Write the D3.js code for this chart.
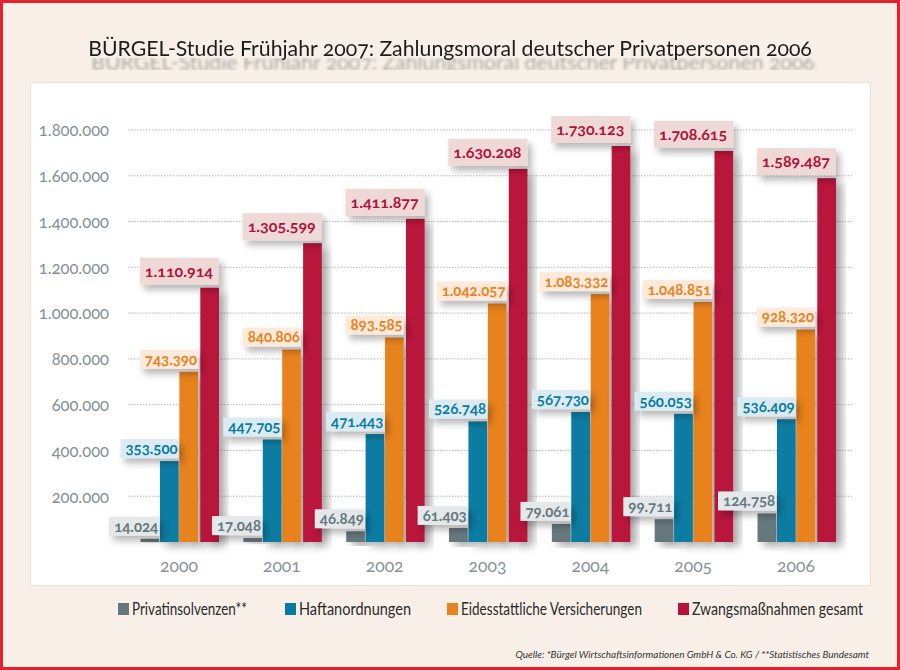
<!DOCTYPE html>
<html><head><meta charset="utf-8">
<script src="https://cdn.jsdelivr.net/npm/d3@7"></script>
<style>
html,body{margin:0;padding:0;background:#f8f0e8;}
svg{display:block;}
text{font-family:Lato,"Open Sans",sans-serif;font-variant-numeric:oldstyle-nums;}
</style></head>
<body><svg id="c" width="900" height="670"></svg>
<script>
const years = ["2000","2001","2002","2003","2004","2005","2006"];
const privatinsolvenzen = [14024, 17048, 46849, 61403, 79061, 99711, 124758];
const haftanordnungen = [353500, 447705, 471443, 526748, 567730, 560053, 536409];
const eidesstattliche = [743390, 840806, 893585, 1042057, 1083332, 1048851, 928320];
const zwangsmassnahmen = [1110914, 1305599, 1411877, 1630208, 1730123, 1708615, 1589487];
const seriesNames = ["Privatinsolvenzen**","Haftanordnungen","Eidesstattliche Versicherungen","Zwangsmaßnahmen gesamt"];
const seriesColors = ["#66777d","#077ca2","#e8821f","#b9123a"];
const labelFills = ["#e4e8ea","#dcebf2","#fdeadb","#eed9d6"];
const labelColors = ["#66777d","#077ca2","#e8821f","#b0123a"];
const yTicks = [200000,400000,600000,800000,1000000,1200000,1400000,1600000,1800000];
const titleText = "BÜRGEL-Studie Frühjahr 2007: Zahlungsmoral deutscher Privatpersonen 2006";
const sourceText = "Quelle: *Bürgel Wirtschaftsinformationen GmbH & Co. KG / **Statistisches Bundesamt";

const allSeries = [privatinsolvenzen, haftanordnungen, eidesstattliche, zwangsmassnahmen];
const de = d3.formatLocale({decimal:",",thousands:".",grouping:[3],currency:["","€"]});
const fmt = de.format(",d");

const svg = d3.select("#c");
const defs = svg.append("defs");
const sh = defs.append("filter").attr("id","sh").attr("x","-50%").attr("y","-20%").attr("width","200%").attr("height","150%");
sh.append("feDropShadow").attr("dx",6).attr("dy",4).attr("stdDeviation",4).attr("flood-color","#000").attr("flood-opacity",0.35);
const shl = defs.append("filter").attr("id","shl").attr("x","-30%").attr("y","-50%").attr("width","160%").attr("height","220%");
shl.append("feDropShadow").attr("dx",4).attr("dy",5).attr("stdDeviation",3.5).attr("flood-color","#000").attr("flood-opacity",0.28);

// title shadow filter: blurred copy shifted down, cropped
const tf = defs.append("filter").attr("id","tsh").attr("filterUnits","userSpaceOnUse")
  .attr("x",40).attr("y",15).attr("width",820).attr("height",65);
tf.append("feGaussianBlur").attr("in","SourceAlpha").attr("stdDeviation",1.8).attr("result","b");
tf.append("feOffset").attr("in","b").attr("dx",3).attr("dy",14).attr("result","o");
tf.append("feFlood").attr("flood-color","#6a6a6a").attr("flood-opacity",0.55).attr("result","f");
tf.append("feComposite").attr("in","f").attr("in2","o").attr("operator","in").attr("result","s");
tf.append("feFlood").attr("flood-color","#000").attr("flood-opacity",1).attr("x",40).attr("y",58).attr("width",820).attr("height",12).attr("result","win");
tf.append("feComposite").attr("in","s").attr("in2","win").attr("operator","in").attr("result","sc");
const m = tf.append("feMerge");
m.append("feMergeNode").attr("in","sc");
m.append("feMergeNode").attr("in","SourceGraphic");

// helper: fit font size so text has a given natural width
function fitText(sel, base, width){
  sel.attr("font-size", base);
  const w = sel.node().getComputedTextLength();
  sel.attr("font-size", base * width / w);
}

// background + frame
svg.append("rect").attr("x",0).attr("y",0).attr("width",900).attr("height",670).attr("fill","#f8f0e8");
svg.append("rect").attr("x",30.5).attr("y",82.5).attr("width",840).attr("height",503).attr("fill","#ffffff").attr("stroke","#efe2d2").attr("stroke-width",1);
svg.append("rect").attr("x",1.5).attr("y",1.5).attr("width",897).attr("height",667).attr("fill","none").attr("stroke","#e3222b").attr("stroke-width",3);

// title
const title = svg.append("text").attr("x",450).attr("y",56).attr("text-anchor","middle")
  .attr("fill","#1e1e1e").attr("filter","url(#tsh)").text(titleText);
fitText(title, 24, 724);

// scales
const y = d3.scaleLinear().domain([0,1800000]).range([542,130]);
const x = d3.scaleBand().domain(years).range([121,854]).paddingInner(0.252).paddingOuter(0.19);
const xi = d3.scaleBand().domain(d3.range(4)).range([0,x.bandwidth()]).paddingInner(0.04);

// grid
svg.append("g").selectAll("line").data(yTicks).join("line")
  .attr("x1",128).attr("x2",852).attr("y1",d=>y(d)).attr("y2",d=>y(d))
  .attr("stroke","#b8b8b8").attr("stroke-width",1).attr("stroke-dasharray","1.5,1.5");

// y axis labels
const yAxis = d3.axisLeft(y).tickValues(yTicks).tickFormat(fmt).tickSize(0).tickPadding(0);
const ya = svg.append("g").attr("transform","translate(109,0)").call(yAxis);
ya.select(".domain").remove();
ya.selectAll("text").attr("font-size",16.5).attr("fill","#849096").attr("dy","0.35em")
  .style("font-family","Lato, sans-serif");

// axis line with shadow
svg.append("line").attr("x1",118).attr("x2",118).attr("y1",117).attr("y2",555)
  .attr("stroke","#1a1a1a").attr("stroke-width",2).attr("filter","url(#sh)");

// bars
const groups = svg.append("g").selectAll("g").data(years).join("g")
  .attr("transform",d=>`translate(${x(d)},0)`);
groups.each(function(yr, gi){
  const g = d3.select(this);
  allSeries.forEach((s, si) => {
    const v = s[gi];
    const bx = xi(si) + (si===3 ? 1.5 : 0);
    g.append("rect").attr("x",bx).attr("y",y(v)).attr("width",xi.bandwidth()).attr("height",y(0)-y(v))
      .attr("fill",seriesColors[si]).attr("filter","url(#sh)");
  });
});

// x axis baseline
svg.append("line").attr("x1",118).attr("x2",853).attr("y1",543.5).attr("y2",543.5)
  .attr("stroke","#111").attr("stroke-width",3).attr("filter","url(#sh)");

// value labels
groups.each(function(yr, gi){
  const g = d3.select(this);
  allSeries.forEach((s, si) => {
    const v = s[gi];
    const bx = xi(si) + (si===3 ? 1.5 : 0);
    const right = bx + xi.bandwidth();
    const isRed = si===3;
    const lg = g.append("g");
    const box = lg.append("rect").attr("fill",labelFills[si]).attr("filter","url(#shl)");
    const t = lg.append("text").attr("text-anchor","end").attr("font-weight","bold")
      .attr("font-size",isRed?16:15).attr("fill",labelColors[si]).text(fmt(v));
    const w = t.node().getComputedTextLength();
    const bh = isRed ? 27 : 19;
    const bottom = y(v) - 3;
    const tx = isRed ? right - 6 : right - 1;
    const bl = tx - w - 5;
    box.attr("x",bl).attr("y",bottom-bh).attr("width",right-bl).attr("height",bh);
    t.attr("x",tx).attr("y",bottom - bh/2).attr("dy","0.36em");
  });
});

// year labels
const xAxis = d3.axisBottom(x).tickSize(0).tickPadding(0);
const xa = svg.append("g").attr("transform","translate(0,572)").call(xAxis);
xa.select(".domain").remove();
xa.selectAll("text").attr("font-size",17.5).attr("fill","#87939a").attr("dy","0").style("font-family","Lato, sans-serif");

// legend
const legendX = [118, 285, 447, 678];
const legendW = [115, 112, 181, 171];
const lg = svg.append("g").selectAll("g").data(seriesNames).join("g")
  .attr("transform",(d,i)=>`translate(${legendX[i]},603)`);
lg.append("rect").attr("width",11).attr("height",12).attr("fill",(d,i)=>seriesColors[i]);
lg.append("text").attr("x",14).attr("y",11.5).attr("font-size",16.5).attr("fill","#2a2a2a")
  .attr("textLength",(d,i)=>legendW[i]).attr("lengthAdjust","spacingAndGlyphs").text(d=>d);

// source
const src = svg.append("text").attr("x",869).attr("y",658).attr("text-anchor","end")
  .attr("font-style","italic").attr("fill","#333").text(sourceText);
fitText(src, 11, 354);
</script></body></html>
